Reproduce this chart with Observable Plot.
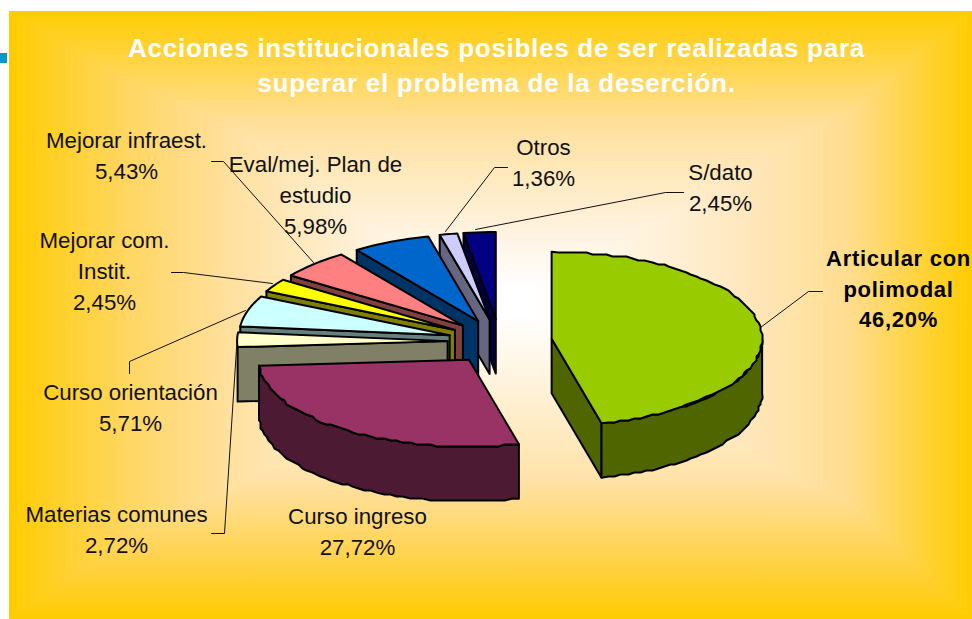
<!DOCTYPE html>
<html>
<head>
<meta charset="utf-8">
<script src="https://cdn.jsdelivr.net/npm/d3@7"></script>
<script src="https://cdn.jsdelivr.net/npm/@observablehq/plot@0.6"></script>
<style>
html,body{margin:0;padding:0;background:#fff;overflow:hidden}
#wrap{position:relative;width:972px;height:619px}
#panel{position:absolute;left:9px;top:11px;width:963px;height:608px;
 background-image:
  linear-gradient(to right,#FFCC00 0%,#FFD660 12%,#FFE09F 23%,#FFF5E6 40%,#FFFFFF 50%,#FFFFFF 54%,#FFE8C0 76%,#FFDD90 87%,#FFCC00 100%),
  linear-gradient(to bottom,#FFCC00 0%,#FFE09F 19%,#FFF5E6 38%,#FFFFFF 46%,#FFFFFF 50%,#FFE2A8 77%,#FFD24A 90%,#FFCC00 100%);
 background-blend-mode:darken}
#chart{position:absolute;left:0;top:0}
#chart svg{background:transparent}
</style>
</head>
<body>
<div id="wrap"><div id="panel"></div><div id="chart"></div></div>
<script>
const categories = ["Articular con polimodal","Curso ingreso","Materias comunes","Curso orientación","Mejorar com. Instit.","Mejorar infraest.","Eval/mej. Plan de estudio","Otros","S/dato"];
const shares = [46.20,27.72,2.72,5.71,2.45,5.43,5.98,1.36,2.45];
const percentLabels = ["46,20%","27,72%","2,72%","5,71%","2,45%","5,43%","5,98%","1,36%","2,45%"];
const topColors = ["#99CC00","#993366","#FFFFCC","#CCFFFF","#FFFF00","#FF8080","#0066CC","#CCCCFF","#000080"];
const sideColors = ["#4F6600","#4D1A33","#808066","#668080","#808000","#804040","#003366","#666680","#000040"];
const titleLines = "Acciones institucionales posibles de ser realizadas para\nsuperar el problema de la deserción.";

// label layout
const labelText = [
 "Articular con\npolimodal\n46,20%","Curso ingreso\n27,72%","Materias comunes\n2,72%","Curso orientación\n5,71%",
 "Mejorar com.\nInstit.\n2,45%","Mejorar infraest.\n5,43%","Eval/mej. Plan de\nestudio\n5,98%","Otros\n1,36%","S/dato\n2,45%"];
const labelX = [898,357,116,130,104,126,315,543,720];
const labelY = [290,532.5,530.5,409,272,157,196,164,188.5];
const leaders = [
 [[760,327],[808,291],[822,291]],
 [],
 [[237,333],[224,533],[211,533]],
 [[245,310],[129,361],[129,373]],
 [[272,283],[183,272],[171,272]],
 [[313,262],[223,161],[211,161]],
 [],
 [[445,231],[494,167],[507,167]],
 [[475,229],[665,192],[683,192]]
];

// pie geometry (pixels of the chart frame)
const C = {x:499.3, y:341, rx:210.5, ry:87, depth:54.5, ex:52.2, ey:22.5};
const total = d3.sum(shares);
const cum = d3.cumsum(shares);
const slices = shares.map((v,i)=>{
  const a0 = ((cum[i]-v)/total)*2*Math.PI, a1 = (cum[i]/total)*2*Math.PI, m=(a0+a1)/2;
  return {i,v,a0,a1,ax:C.x+C.ex*Math.sin(m),ay:C.y-C.ey*Math.cos(m)};
});
const rim=(s,a,dz=0)=>({x:s.ax+C.rx*Math.sin(a),y:s.ay-C.ry*Math.cos(a)+dz});
const snap=p=>({x:Math.round(p.x/2)*2,y:Math.round(p.y/2)*2});
function arc(s,a0,a1,dz=0){
  const n=Math.max(2,Math.ceil(Math.abs(a1-a0)*C.rx/7)),pts=[];
  for(let k=0;k<=n;k++){
    const p=rim(s,a0+(a1-a0)*k/n,dz);
    pts.push(k==0||k==n||s.v<20?p:snap(p));
  }
  return pts;
}
const polys=[];
function addSlice(s){
  const apexTop={x:s.ax,y:s.ay},apexBot={x:s.ax,y:s.ay+C.depth};
  if(s.i===0){
    polys.push({fill:sideColors[s.i],pts:[apexTop,rim(s,s.a1),rim(s,s.a1,C.depth),apexBot]});
  }else if(s.a0>Math.PI*1.4){
    polys.push({fill:sideColors[s.i],pts:[rim(s,s.a0),apexTop,apexBot,rim(s,s.a0,C.depth)]});
  }
  const lo=Math.max(s.a0,Math.PI/2),hi=Math.min(s.a1,Math.PI*1.5);
  if(hi>lo && s.v>=20){
    polys.push({fill:sideColors[s.i],pts:[...arc(s,lo,hi),...arc(s,hi,lo,C.depth)]});
  }
  polys.push({fill:topColors[s.i],pts:[apexTop,...arc(s,s.a0,s.a1)]});
}
// back to front
[8,7,6,5,4,3,2,1,0].forEach(i=>addSlice(slices[i]));

const leaderRows = leaders.flatMap((l,i)=>l.map(([x,y])=>({x,y,i})));
const labelRows = categories.map((c,i)=>({c,text:labelText[i],x:labelX[i],y:labelY[i]-3.5,bold:i===0}));
const chart = Plot.plot({
  width:972,height:619,margin:0,
  x:{domain:[0,972],range:[0,972],axis:null},
  y:{domain:[0,619],range:[0,619],axis:null},
  style:{background:"transparent"},
  marks:[
    Plot.rect([0],{x1:()=>0,x2:()=>7,y1:()=>53,y2:()=>63,fill:"#0099CC"}),
    ...polys.map(p=>Plot.line(p.pts,{x:"x",y:"y",fill:p.fill,stroke:"#000",strokeWidth:2,strokeLinejoin:"round",curve:"linear-closed"})),
    Plot.line(leaderRows,{x:"x",y:"y",z:"i",stroke:"#111",strokeWidth:1}),
    Plot.text(labelRows.filter(d=>!d.bold),{x:"x",y:"y",text:"text",fontSize:22.3,lineHeight:1.38,fontFamily:"Liberation Sans",fill:"#111",textAnchor:"middle"}),
    Plot.text(labelRows.filter(d=>d.bold),{x:"x",y:"y",text:"text",fontSize:22,lineHeight:1.39,fontWeight:"bold",fontFamily:"Liberation Sans",fill:"#000",textAnchor:"middle"}),
    Plot.text([titleLines],{x:()=>496,y:()=>63,text:d=>d,fontSize:26,lineHeight:1.35,fontWeight:"bold",fontFamily:"Liberation Sans",fill:"#fff",textAnchor:"middle"})
  ]
});
d3.select(chart).selectAll("text").each(function(){
  const t=this.textContent;
  if(t.startsWith("Acciones")) this.style.letterSpacing="0.72px";
  else if(t.startsWith("Articular")) this.style.letterSpacing="0.7px";
});
document.getElementById("chart").appendChild(chart);
</script>
</body>
</html>
